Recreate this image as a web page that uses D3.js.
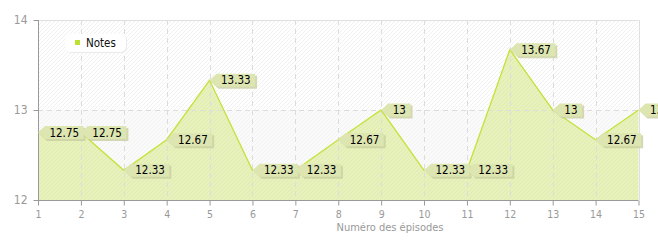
<!DOCTYPE html>
<html><head><meta charset="utf-8">
<script src="https://cdn.jsdelivr.net/npm/d3@7"></script>
<style>body{margin:0;background:#fff;}svg{display:block;}</style>
</head><body>
<script>
const episodes = [1,2,3,4,5,6,7,8,9,10,11,12,13,14,15];
const notes = [12.75,12.75,12.33,12.67,13.33,12.33,12.33,12.67,13,12.33,12.33,13.67,13,12.67,13];
const yTicks = [12,13,14];
const seriesName = "Notes";
const xTitle = "Numéro des épisodes";

const W = 658, H = 240;
const svg = d3.select("body").append("svg").attr("width", W).attr("height", H);
const x = d3.scaleLinear().domain([1,15]).range([38,638.5]);
const y = d3.scaleLinear().domain([12,14]).range([200,20]);
const font = "'DejaVu Sans Condensed', Tahoma, 'DejaVu Sans', sans-serif";

const defs = svg.append("defs");
function hatch(id, bg, stroke){
  const p = defs.append("pattern").attr("id", id).attr("patternUnits","userSpaceOnUse")
    .attr("width",4).attr("height",4);
  p.append("rect").attr("width",4).attr("height",4).attr("fill",bg);
  p.append("path").attr("d","M-1,1 L1,-1 M0,4 L4,0 M3,5 L5,3").attr("stroke",stroke).attr("stroke-width",0.8);
}
hatch("hUp", "#ffffff", "#ececec");
hatch("hLow", "#fafafa", "#f0f0f0");
hatch("hArea", "#e7f1bb", "#dfeaae");

// background bands
svg.append("rect").attr("x",x(1)).attr("y",y(14)).attr("width",x(15)-x(1)).attr("height",y(13)-y(14)).attr("fill","url(#hUp)");
svg.append("rect").attr("x",x(1)).attr("y",y(13)).attr("width",x(15)-x(1)).attr("height",y(12)-y(13)).attr("fill","url(#hLow)");

// area
const area = d3.area().x((d,i)=>x(episodes[i])).y0(y(12)).y1(d=>y(d));
svg.append("path").datum(notes).attr("d",area).attr("fill","url(#hArea)");

// grid
const g = svg.append("g");
episodes.slice(1,-1).forEach(e=>{
  g.append("line").attr("x1",Math.round(x(e))+0.5).attr("x2",Math.round(x(e))+0.5).attr("y1",y(14)).attr("y2",y(12))
   .attr("stroke","#dcdcdc").attr("stroke-dasharray","5,4");
});
g.append("line").attr("x1",x(1)).attr("x2",x(15)).attr("y1",Math.round(y(13))+0.5).attr("y2",Math.round(y(13))+0.5)
 .attr("stroke","#dcdcdc").attr("stroke-dasharray","5,4");
g.append("line").attr("x1",x(1)).attr("x2",x(15)).attr("y1",Math.round(y(14))+0.5).attr("y2",Math.round(y(14))+0.5)
 .attr("stroke","#e0e0e0");
g.append("line").attr("x1",Math.round(x(15))+0.5).attr("x2",Math.round(x(15))+0.5).attr("y1",y(14)).attr("y2",y(12))
 .attr("stroke","#e0e0e0");

// line
const line = d3.line().x((d,i)=>x(episodes[i])).y(d=>y(d));
svg.append("path").datum(notes).attr("d",line).attr("fill","none").attr("stroke","#c5e23c").attr("stroke-width",1.3);

// axes
const yAxis = d3.axisLeft(y).tickValues(yTicks).tickSize(5).tickPadding(6).tickFormat(d3.format("d"));
const ya = svg.append("g").attr("transform",`translate(${Math.round(x(1))+0.5},0)`).call(yAxis);
ya.select(".domain").attr("stroke","#999").attr("d",`M0,${y(14)}V${y(12)}`);
ya.selectAll(".tick line").attr("stroke","#999");
ya.selectAll("text").attr("fill","#999").style("font-family",font).style("font-size","12px");

const xAxis = d3.axisBottom(x).tickValues(episodes).tickSize(5).tickPadding(5).tickFormat(d3.format("d"));
const xa = svg.append("g").attr("transform",`translate(0,${Math.round(y(12))+0.5})`).call(xAxis);
xa.select(".domain").attr("stroke","#999").attr("d",`M${x(1)},0H${x(15)}`);
xa.selectAll(".tick line").attr("stroke","#999");
xa.selectAll("text").attr("fill","#999").style("font-family",font).style("font-size","10.5px");

svg.append("text").attr("x",390).attr("y",231).attr("text-anchor","middle").attr("fill","#999")
  .style("font-family",font).style("font-size","11px").text(xTitle);

// value labels
const lab = svg.append("g");
notes.forEach((v,i)=>{
  const px = x(episodes[i]), py = y(v);
  const txt = String(v);
  const tw = txt.length*6.2 + (txt.includes(".")? -2.5:0);
  const bw = tw + 10;
  const a = 7, h = 13;
  const shape = (dx,dy)=>`M${px+dx},${py+dy} L${px+a+dx},${py-h/2+dy} L${px+a+bw+dx},${py-h/2+dy} L${px+a+bw+dx},${py+h/2+dy} L${px+a+dx},${py+h/2+dy} Z`;
  lab.append("path").attr("d",shape(2,2)).attr("fill","#c9cfa0").attr("opacity",0.8);
  lab.append("path").attr("d",shape(0,0)).attr("fill","#dde5b1");
  lab.append("text").attr("x",px+a+bw/2).attr("y",py+4).attr("text-anchor","middle")
    .attr("fill","#000").style("font-family",font).style("font-size","11.5px").text(txt);
});

// legend
const lg = svg.append("g");
lg.append("rect").attr("x",66).attr("y",35).attr("width",61).attr("height",18).attr("rx",5).attr("fill","#eaeaea");
lg.append("rect").attr("x",65).attr("y",34).attr("width",61).attr("height",18).attr("rx",5).attr("fill","#fff");
lg.append("rect").attr("x",75).attr("y",40).attr("width",5).attr("height",5).attr("fill","#bde035");
lg.append("text").attr("x",86).attr("y",47).attr("fill","#111").style("font-family",font).style("font-size","11.5px").text(seriesName);
</script>
</body></html>
